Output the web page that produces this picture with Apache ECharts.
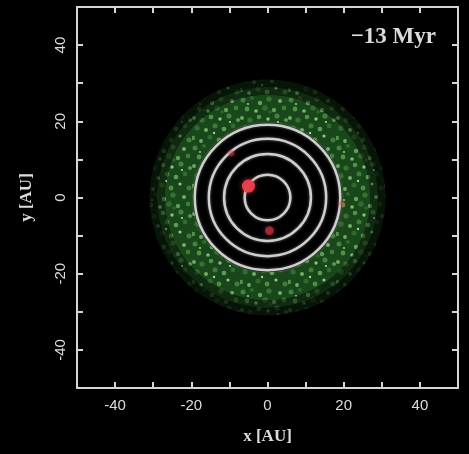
<!DOCTYPE html>
<html>
<head>
<meta charset="utf-8">
<script src="https://cdn.jsdelivr.net/npm/echarts@6/dist/echarts.min.js"></script>
<style>html,body{margin:0;padding:0;background:#000;}#c{width:469px;height:454px;}</style>
</head>
<body>
<div id="c"></div>
<script>
// ---- data ----
var xTicks = [-40, -20, 0, 20, 40];
var yTicks = [-40, -20, 0, 20, 40];
var orbitRadii = [6.0, 11.4, 15.4, 19.1];          // AU, white orbit circles
var diskInner = 19.6, diskOuter = 30.0;             // AU, planetesimal disk
var planetsX = [-5.0, 0.5, -9.5, 19.5];
var planetsY = [3.0, -8.7, 11.6, -1.6];
var planetsSize = [13, 9, 6, 5];
var planetsAlpha = [0.95, 0.55, 0.45, 0.45];
var timeLabel = '\u221213 Myr';

// mottled texture tile (style only)
function makeTile() {
  var c = document.createElement('canvas');
  c.width = 48; c.height = 48;
  var g = c.getContext('2d');
  g.fillStyle = '#1a461b'; g.fillRect(0, 0, 48, 48);
  var dots = [[3,4,'#3f823a',2.5],[12,2,'#2e6a2b',2],[20,7,'#62a257',2.2],[29,3,'#387533',2.6],[40,5,'#70ad63',2],
    [7,13,'#4f9247',2.4],[16,15,'#7cb870',1.8],[25,12,'#316c2e',2.8],[34,14,'#5f9e55',2.2],[44,12,'#3d7b38',2.4],
    [2,22,'#69a85d',2],[10,24,'#35722f',2.6],[19,21,'#509248',2.3],[28,23,'#86c07a',1.7],[37,20,'#41813c',2.6],[46,24,'#58984e',2],
    [5,32,'#306b2d',2.7],[14,34,'#71ad65',2],[23,30,'#3d7b38',2.5],[32,33,'#5f9d54',2.3],[41,30,'#316d2e',2.4],
    [1,42,'#539548',2.2],[9,45,'#70ab63',1.9],[18,41,'#2f6a2b',2.6],[27,44,'#4e8f45',2.4],[36,40,'#92c986',1.6],[45,44,'#3f7e3a',2.5],
    [22,37,'#a2d395',1.2],[8,8,'#95ca89',1.1],[38,26,'#abd99e',1.1],[30,16,'#2c6429',1.8]];
  dots.forEach(function (d) {
    g.fillStyle = d[2];
    g.beginPath(); g.arc(d[0], d[1], d[3], 0, Math.PI * 2); g.fill();
  });
  return c;
}
var tile = makeTile();

var chart = echarts.init(document.getElementById('c'));
var labelFmt = function (v) { return (v % 20 === 0 && Math.abs(v) < 50) ? String(v) : ''; };
var frameColor = '#d6d6d6';
function axisCommon(extra) {
  var a = {
    type: 'value', min: -50, max: 50, interval: 10,
    axisLine: { show: true, onZero: false, lineStyle: { color: frameColor, width: 2 } },
    axisTick: { show: true, inside: true, length: 6, lineStyle: { color: frameColor, width: 2 } },
    splitLine: { show: false },
    axisLabel: { show: false }
  };
  for (var k in extra) a[k] = extra[k];
  return a;
}

chart.setOption({
  backgroundColor: '#000',
  animation: false,
  grid: { left: 77, right: 11, top: 7, bottom: 66 },
  xAxis: [
    axisCommon({ position: 'bottom', name: 'x [AU]', nameLocation: 'middle', nameGap: 40,
      nameTextStyle: { color: '#ddd', fontSize: 17, fontFamily: 'Liberation Serif', fontWeight: 'bold' },
      axisLabel: { show: true, color: '#ddd', fontSize: 15, fontFamily: 'Liberation Sans', margin: 10, formatter: labelFmt } }),
    axisCommon({ position: 'top' })
  ],
  yAxis: [
    axisCommon({ position: 'left', name: 'y [AU]', nameLocation: 'middle', nameGap: 42, nameRotate: 90,
      nameTextStyle: { color: '#ddd', fontSize: 17, fontFamily: 'Liberation Serif', fontWeight: 'bold' },
      axisLabel: { show: true, color: '#ddd', fontSize: 15, fontFamily: 'Liberation Sans', margin: 9, rotate: 90, formatter: labelFmt } }),
    axisCommon({ position: 'right' })
  ],
  graphic: [{
    type: 'text', right: 33, top: 26,
    style: { text: timeLabel, fill: '#dcdcdc', font: 'bold 23px "Liberation Serif"' }
  }],
  series: [
    {
      type: 'custom', coordinateSystem: 'cartesian2d', z: 1,
      data: [[0, 0, diskInner, diskOuter]],
      renderItem: function (params, api) {
        var c = api.coord([api.value(0), api.value(1)]);
        var r0 = api.size([api.value(2), 0])[0];
        var r1 = api.size([api.value(3), 0])[0];
        var f = api.size([1, 0])[0];
        var pat = { type: 'pattern', image: tile, repeat: 'repeat' };
        return {
          type: 'group', children: [
            { type: 'ring', shape: { cx: c[0], cy: c[1], r0: r1 - f, r: r1 + f }, style: { fill: pat, opacity: 0.3 } },
            { type: 'ring', shape: { cx: c[0], cy: c[1], r0: r1 - 3 * f, r: r1 - f }, style: { fill: pat, opacity: 0.6 } },
            { type: 'ring', shape: { cx: c[0], cy: c[1], r0: r0, r: r1 - 3 * f }, style: { fill: pat, opacity: 1 } }
          ]
        };
      }
    },
    {
      type: 'custom', coordinateSystem: 'cartesian2d', z: 2,
      data: orbitRadii.map(function (r) { return [0, 0, r]; }),
      renderItem: function (params, api) {
        var c = api.coord([api.value(0), api.value(1)]);
        var r = api.size([api.value(2), 0])[0];
        return { type: 'circle', shape: { cx: c[0], cy: c[1], r: r },
          style: { fill: 'none', stroke: '#cfcfcf', lineWidth: 2.5, shadowBlur: 3, shadowColor: 'rgba(255,255,255,0.4)' } };
      }
    },
    {
      type: 'scatter', z: 3,
      data: planetsX.map(function (x, i) { return { value: [x, planetsY[i]], symbolSize: planetsSize[i], itemStyle: { opacity: planetsAlpha[i] } }; }),
      itemStyle: { color: '#e8404e', shadowBlur: 5, shadowColor: 'rgba(230,60,70,0.8)' }
    }
  ]
});
</script>
</body>
</html>
